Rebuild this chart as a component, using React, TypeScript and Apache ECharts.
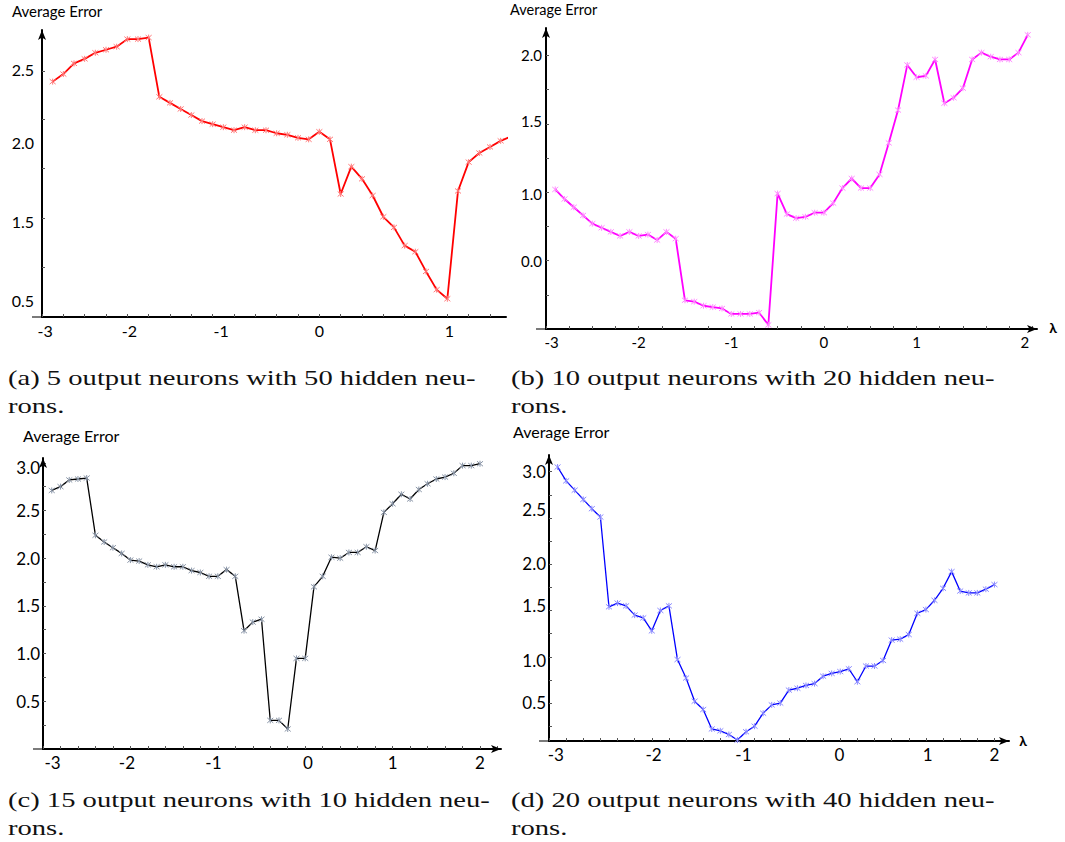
import { useEffect, useRef } from 'react';
import * as echarts from 'echarts';

// Sampled regularisation strengths (λ) and the average error for each network.
const lambdaA = [-2.9, -2.8, -2.7, -2.6, -2.5, -2.4, -2.3, -2.2, -2.1, -2.0, -1.9, -1.8, -1.7, -1.6, -1.5, -1.4, -1.3, -1.2, -1.1, -1.0, -0.9, -0.8, -0.7, -0.6, -0.5, -0.4, -0.3, -0.2, -0.1, 0.0, 0.1, 0.2, 0.3, 0.4, 0.5, 0.6, 0.7, 0.8, 0.9, 1.0, 1.1, 1.2, 1.3, 1.4];
const errorA = [2.42, 2.47, 2.54, 2.57, 2.61, 2.63, 2.65, 2.70, 2.70, 2.71, 2.32, 2.28, 2.24, 2.20, 2.16, 2.14, 2.12, 2.10, 2.12, 2.10, 2.10, 2.08, 2.07, 2.05, 2.04, 2.09, 2.04, 1.68, 1.86, 1.78, 1.67, 1.53, 1.46, 1.34, 1.30, 1.17, 1.05, 0.99, 1.70, 1.89, 1.95, 1.99, 2.03, 2.06];

const lambdaB = [-2.9, -2.8, -2.7, -2.6, -2.5, -2.4, -2.3, -2.2, -2.1, -2.0, -1.9, -1.8, -1.7, -1.6, -1.5, -1.4, -1.3, -1.2, -1.1, -1.0, -0.9, -0.8, -0.7, -0.6, -0.5, -0.4, -0.3, -0.2, -0.1, 0.0, 0.1, 0.2, 0.3, 0.4, 0.5, 0.6, 0.7, 0.8, 0.9, 1.0, 1.1, 1.2, 1.3, 1.4, 1.5, 1.6, 1.7, 1.8, 1.9, 2.0, 2.1, 2.2];
const errorB = [1.02, 0.95, 0.89, 0.83, 0.77, 0.74, 0.71, 0.68, 0.71, 0.68, 0.69, 0.65, 0.71, 0.66, 0.21, 0.20, 0.17, 0.16, 0.15, 0.11, 0.11, 0.11, 0.12, 0.03, 0.99, 0.84, 0.81, 0.82, 0.85, 0.85, 0.92, 1.03, 1.10, 1.03, 1.03, 1.13, 1.36, 1.60, 1.93, 1.84, 1.85, 1.97, 1.65, 1.69, 1.76, 1.97, 2.02, 1.99, 1.97, 1.97, 2.02, 2.15];

const lambdaC = [-2.9, -2.8, -2.7, -2.6, -2.5, -2.4, -2.3, -2.2, -2.1, -2.0, -1.9, -1.8, -1.7, -1.6, -1.5, -1.4, -1.3, -1.2, -1.1, -1.0, -0.9, -0.8, -0.7, -0.6, -0.5, -0.4, -0.3, -0.2, -0.1, 0.0, 0.1, 0.2, 0.3, 0.4, 0.5, 0.6, 0.7, 0.8, 0.9, 1.0, 1.1, 1.2, 1.3, 1.4, 1.5, 1.6, 1.7, 1.8, 1.9, 2.0];
const errorC = [2.71, 2.75, 2.82, 2.83, 2.84, 2.24, 2.17, 2.11, 2.05, 1.98, 1.97, 1.93, 1.91, 1.93, 1.91, 1.91, 1.87, 1.85, 1.81, 1.81, 1.88, 1.81, 1.24, 1.33, 1.36, 0.30, 0.30, 0.21, 0.95, 0.95, 1.70, 1.81, 2.01, 2.00, 2.06, 2.06, 2.12, 2.08, 2.48, 2.57, 2.67, 2.62, 2.72, 2.78, 2.83, 2.85, 2.89, 2.97, 2.97, 2.99];

const lambdaD = [-2.9, -2.8, -2.7, -2.6, -2.5, -2.4, -2.3, -2.2, -2.1, -2.0, -1.9, -1.8, -1.7, -1.6, -1.5, -1.4, -1.3, -1.2, -1.1, -1.0, -0.9, -0.8, -0.7, -0.6, -0.5, -0.4, -0.3, -0.2, -0.1, 0.0, 0.1, 0.2, 0.3, 0.4, 0.5, 0.6, 0.7, 0.8, 0.9, 1.0, 1.1, 1.2, 1.3, 1.4, 1.5, 1.6, 1.7, 1.8, 1.9, 2.0, 2.1, 2.2];
const errorD = [3.05, 2.90, 2.80, 2.70, 2.60, 2.51, 1.54, 1.58, 1.55, 1.45, 1.42, 1.28, 1.50, 1.55, 0.97, 0.77, 0.52, 0.43, 0.22, 0.20, 0.16, 0.10, 0.19, 0.25, 0.39, 0.48, 0.50, 0.64, 0.66, 0.69, 0.71, 0.79, 0.82, 0.84, 0.87, 0.73, 0.90, 0.90, 0.96, 1.18, 1.19, 1.24, 1.47, 1.51, 1.61, 1.74, 1.92, 1.71, 1.69, 1.69, 1.73, 1.78];

// Axis labels as printed on each panel, and where along the axis each one sits.
const xTickTextA = ['-3', '-2', '-1', '0', '1'];
const xTickAtA = [-2.97, -2.18, -1.32, -0.4, 0.82];
const yTickTextA = ['2.5', '2.0', '1.5', '0.5'];
const yTickAtA = [2.5, 2.02, 1.5, 0.98];

const xTickTextB = ['-3', '-2', '-1', '0', '1', '2'];
const xTickAtB = [-2.94, -2.0, -1.0, 0.0, 1.0, 2.17];
const yTickTextB = ['2.0', '1.5', '1.0', '0.0'];
const yTickAtB = [2.0, 1.52, 0.99, 0.5];

const xTickTextC = ['-3', '-2', '-1', '0', '1', '2'];
const xTickAtC = [-2.89, -2.04, -1.05, 0.03, 1.0, 2.0];
const yTickTextC = ['3.0', '2.5', '2.0', '1.5', '1.0', '0.5'];
const yTickAtC = [2.95, 2.5, 2.0, 1.5, 1.0, 0.5];

const xTickTextD = ['-3', '-2', '-1', '0', '1', '2'];
const xTickAtD = [-2.92, -1.78, -0.73, 0.39, 1.42, 2.2];
const yTickTextD = ['3.0', '2.5', '2.0', '1.5', '1.0', '0.5'];
const yTickAtD = [3.0, 2.59, 2.01, 1.55, 0.96, 0.51];

const captionA = ['(a) 5 output neurons with 50 hidden neu-', 'rons.'];
const captionB = ['(b) 10 output neurons with 20 hidden neu-', 'rons.'];
const captionC = ['(c) 15 output neurons with 10 hidden neu-', 'rons.'];
const captionD = ['(d) 20 output neurons with 40 hidden neu-', 'rons.'];

const yTitle = 'Average Error';
const xTitle = 'λ';

// small asterisk used as the point marker
const STAR = 'path://M0,0L10,10M10,0L0,10M5,-1L5,11';

function steps(from: number, to: number, step: number): number[] {
  const out: number[] = [];
  for (let i = 0; from + i * step <= to + 1e-9; i++) out.push(+(from + i * step).toFixed(4));
  return out;
}

function pick(at: number[], text: string[]) {
  return (v: number) => {
    const i = at.findIndex((p) => Math.abs(p - v) < 1e-6);
    return i >= 0 ? text[i] : '';
  };
}

type Panel = {
  left: number; top: number; width: number; height: number;
  xMin: number; xMax: number; yMin: number; yMax: number;
  xs: number[]; ys: number[];
  xText: string[]; xAt: number[]; yText: string[]; yAt: number[];
  xMinor: number[]; yMinor: number[];
  color: string; marker: string; lineWidth: number;
  labelSize: number; yMargin: number; xArrow: boolean;
  title: { x: number; y: number; size: number };
  caption: string[]; capX: number; capY: number;
  lambda?: { x: number; y: number };
};

const panels: Panel[] = [
  {
    left: 42, top: 30, width: 464, height: 287,
    xMin: -3, xMax: 1.35, yMin: 0.87, yMax: 2.76,
    xs: lambdaA, ys: errorA,
    xText: xTickTextA, xAt: xTickAtA, yText: yTickTextA, yAt: yTickAtA,
    xMinor: steps(-3, 1.3, 0.2), yMinor: [2.49, 2.17, 1.85, 1.52, 1.2],
    color: '#ff0000', marker: '#ff7a7a', lineWidth: 1.8,
    labelSize: 16, yMargin: 8, xArrow: false,
    title: { x: 12, y: 13, size: 15 },
    caption: captionA, capX: 8, capY: 378,
  },
  {
    left: 546, top: 28, width: 491, height: 301,
    xMin: -3, xMax: 2.3, yMin: 0, yMax: 2.2,
    xs: lambdaB, ys: errorB,
    xText: xTickTextB, xAt: xTickAtB, yText: yTickTextB, yAt: yTickAtB,
    xMinor: steps(-3, 2.25, 0.25), yMinor: steps(0.25, 2.0, 0.25),
    color: '#ff00ff', marker: '#ff8cff', lineWidth: 1.8,
    labelSize: 15, yMargin: 4, xArrow: true,
    title: { x: 510, y: 11, size: 14.5 },
    caption: captionB, capX: 511, capY: 378,
    lambda: { x: 1053, y: 327 },
  },
  {
    left: 43, top: 458, width: 458, height: 291,
    xMin: -3, xMax: 2.24, yMin: 0, yMax: 3.05,
    xs: lambdaC, ys: errorC,
    xText: xTickTextC, xAt: xTickAtC, yText: yTickTextC, yAt: yTickAtC,
    xMinor: steps(-3, 2.2, 0.2), yMinor: steps(0.25, 3.0, 0.25),
    color: '#000000', marker: '#8a96a8', lineWidth: 1.3,
    labelSize: 17, yMargin: 3, xArrow: true,
    title: { x: 23, y: 438, size: 16 },
    caption: captionC, capX: 8, capY: 800,
  },
  {
    left: 549, top: 455, width: 460, height: 286,
    xMin: -3, xMax: 2.37, yMin: 0.09, yMax: 3.18,
    xs: lambdaD, ys: errorD,
    xText: xTickTextD, xAt: xTickAtD, yText: yTickTextD, yAt: yTickAtD,
    xMinor: steps(-3, 2.2, 0.2), yMinor: steps(0.25, 3.0, 0.25),
    color: '#0000ff', marker: '#8c8cff', lineWidth: 1.3,
    labelSize: 17, yMargin: 3, xArrow: true,
    title: { x: 513, y: 434, size: 16 },
    caption: captionD, capX: 511, capY: 800,
    lambda: { x: 1023, y: 740 },
  },
];

const LABEL_FONT = 'Lato';
const CAPTION_FONT = 'Liberation Serif';
const CAPTION_SIZE = 22;
// width of the first caption line in the page's typeset layout
const CAPTION_LINE_WIDTH = 474;

function captionStretch(): number {
  const ctx = document.createElement('canvas').getContext('2d');
  if (!ctx) return 1;
  ctx.font = `${CAPTION_SIZE}px "${CAPTION_FONT}"`;
  const w = ctx.measureText(captionA[0]).width;
  const s = w > 0 ? CAPTION_LINE_WIDTH / w : 1;
  return Math.min(1.3, Math.max(0.8, s));
}

export default function App() {
  const ref = useRef<HTMLDivElement>(null);

  useEffect(() => {
    if (!ref.current) return;
    const chart = echarts.init(ref.current, undefined, { renderer: 'svg' });
    const stretch = captionStretch();

    const graphic: any[] = [];
    panels.forEach((p) => {
      graphic.push({
        type: 'text', left: p.title.x, top: p.title.y - p.title.size * 0.65,
        style: { text: yTitle, fontFamily: LABEL_FONT, fontSize: p.title.size, fill: '#000' },
      });
      // short stub of the horizontal axis to the left of the vertical one
      graphic.push({
        type: 'line',
        shape: { x1: p.left - 10, y1: p.top + p.height, x2: p.left, y2: p.top + p.height },
        style: { stroke: '#222', lineWidth: 1.2 },
      });
      if (p.lambda) {
        graphic.push({
          type: 'text', x: p.lambda.x, y: p.lambda.y,
          style: {
            text: xTitle, fontFamily: LABEL_FONT, fontSize: 14, fontWeight: 'bold', fill: '#000',
            align: 'center', verticalAlign: 'middle',
          },
        });
      }
      p.caption.forEach((line, k) => {
        graphic.push({
          type: 'text', x: p.capX, y: p.capY + k * 28, scaleX: stretch,
          style: {
            text: line, fontFamily: CAPTION_FONT, fontSize: CAPTION_SIZE, fill: '#111',
            align: 'left', verticalAlign: 'middle',
          },
        });
      });
    });

    chart.setOption({
      animation: false,
      backgroundColor: '#ffffff',
      grid: panels.map((p) => ({
        left: p.left, top: p.top, width: p.width, height: p.height, containLabel: false,
      })),
      xAxis: panels.map((p, i) => ({
        type: 'value', gridIndex: i, min: p.xMin, max: p.xMax,
        splitLine: { show: false },
        axisLine: {
          onZero: false,
          lineStyle: { color: '#000', width: 2 },
          symbol: p.xArrow ? ['none', 'arrow'] : 'none',
          symbolSize: [6, 10],
        },
        axisTick: {
          show: true, inside: true, length: 3, customValues: p.xMinor,
          lineStyle: { color: '#555', width: 1 },
        },
        axisLabel: {
          customValues: p.xAt, formatter: pick(p.xAt, p.xText),
          fontFamily: LABEL_FONT, fontSize: p.labelSize, color: '#000', margin: 5,
        },
      })),
      yAxis: panels.map((p, i) => ({
        type: 'value', gridIndex: i, min: p.yMin, max: p.yMax,
        splitLine: { show: false },
        axisLine: {
          show: true, onZero: false,
          lineStyle: { color: '#000', width: 2 },
          symbol: ['none', 'arrow'],
          symbolSize: [6, 10],
        },
        axisTick: {
          show: true, inside: true, length: 3, customValues: p.yMinor,
          lineStyle: { color: '#555', width: 1 },
        },
        axisLabel: {
          customValues: p.yAt, formatter: pick(p.yAt, p.yText),
          fontFamily: LABEL_FONT, fontSize: p.labelSize, color: '#000', margin: p.yMargin,
        },
      })),
      series: panels.map((p, i) => ({
        type: 'line', xAxisIndex: i, yAxisIndex: i,
        data: p.xs.map((x, k) => [x, p.ys[k]]),
        symbol: STAR, symbolSize: 6, showSymbol: true, clip: true,
        lineStyle: { color: p.color, width: p.lineWidth },
        itemStyle: { color: p.marker, borderColor: p.marker, borderWidth: 1 },
        emphasis: { disabled: true }, silent: true, z: 2,
      })),
      graphic,
    });

    return () => chart.dispose();
  }, []);

  return (
    <div
      ref={ref}
      style={{ position: 'fixed', left: 0, top: 0, width: 1065, height: 842, background: '#fff' }}
    />
  );
}
